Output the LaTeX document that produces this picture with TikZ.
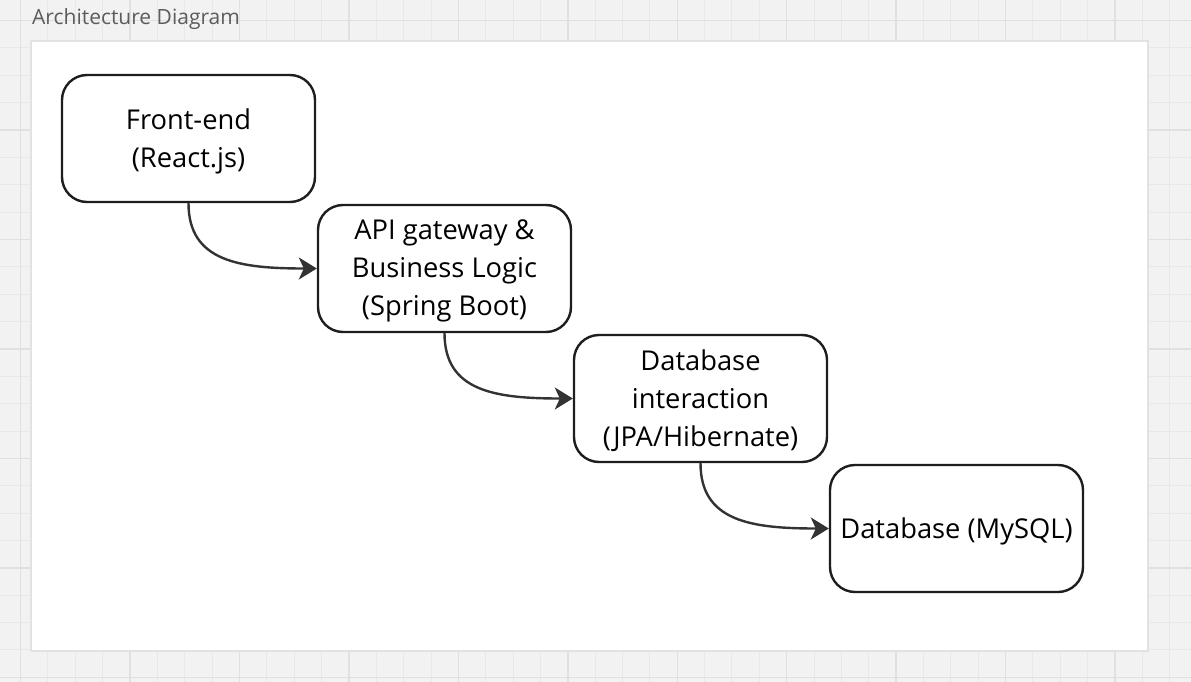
\documentclass[tikz,border=0pt]{standalone}
\usepackage{fontspec}
\setmainfont{Open Sans}
\usepackage{tikz}
\usetikzlibrary{arrows.meta}
\usetikzlibrary{positioning}

\definecolor{boardbg}{HTML}{F2F2F2}
\definecolor{gridline}{HTML}{E8E8E8}
\definecolor{gridmajor}{HTML}{E0E0E0}
\definecolor{frameline}{HTML}{E2E2E2}
\definecolor{boxline}{HTML}{1E1E1E}
\definecolor{arrowline}{HTML}{333333}
\definecolor{titlegray}{HTML}{5C5C5C}

\begin{document}
\begin{tikzpicture}[x=1pt,y=-1pt,
  layer/.style={rectangle,rounded corners=25pt,draw=boxline,line width=2.4pt,fill=white,
    minimum width=253pt,minimum height=127pt,inner sep=0pt,align=center,text depth=1.5pt,
    font=\fontsize{27.3}{38}\selectfont},
  flow/.style={draw=arrowline,line width=2.4pt,-{Stealth[length=18pt,width=22pt,inset=5pt]}}]
\useasboundingbox (0,0) rectangle (1191,682);
\fill[boardbg] (0,0) rectangle (1191,682);
\foreach \k in {0,...,43} {
  \draw[gridline,line width=1pt] ({20.6+27.36*\k},0) -- ({20.6+27.36*\k},682);
}
\foreach \k in {0,...,24} {
  \draw[gridline,line width=1pt] (0,{20.6+27.36*\k}) -- (1191,{20.6+27.36*\k});
}
\foreach \k in {0,...,10} {
  \draw[gridmajor,line width=1.4pt] ({20.6+109.44*\k},0) -- ({20.6+109.44*\k},682);
}
\foreach \k in {0,...,6} {
  \draw[gridmajor,line width=1.4pt] (0,{20.6+109.44*\k}) -- (1191,{20.6+109.44*\k});
}

\node[anchor=base west,inner sep=0pt,text=titlegray,font=\fontsize{21}{25}\selectfont] (title) at (32,25) {Architecture Diagram};
\draw[draw=frameline,line width=1.5pt,fill=white] (31,41) rectangle (1148,651);

\node[layer] (fe) at (188.5,138.5) {Front-end\\(React.js)};
\node[layer,below right=0.6pt and 0.6pt of fe] (api) {API gateway \&\\Business Logic\\(Spring Boot)};
\node[layer,below right=0.6pt and 0.6pt of api] (orm) {Database\\interaction\\(JPA/Hibernate)};
\node[layer,below right=0.6pt and 0.6pt of orm] (db) {Database (MySQL)};

\draw[flow] (fe.south) .. controls +(0,58) and +(-78,0) .. (api.west);
\draw[flow] (api.south) .. controls +(0,58) and +(-78,0) .. (orm.west);
\draw[flow] (orm.south) .. controls +(0,58) and +(-78,0) .. (db.west);

\end{tikzpicture}
\end{document}
